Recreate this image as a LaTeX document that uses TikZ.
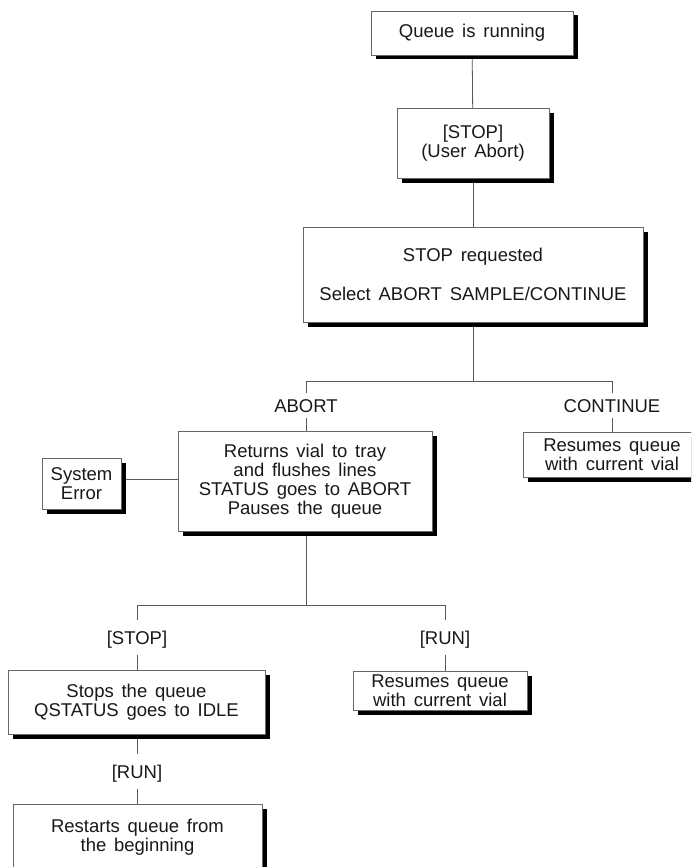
\documentclass[tikz,border=0pt]{standalone}
\usepackage{fontspec}
\setmainfont{Liberation Sans}
\usetikzlibrary{shadows,backgrounds}
\newcommand{\flowfont}{\fontsize{18.5}{19}\selectfont\spaceskip=0.42em plus 0.1em\relax}
\begin{document}
\begin{tikzpicture}[x=1pt,y=-1pt,
  box/.style={draw=black!60, line width=0.6pt, fill=white, align=center, inner sep=0pt,
    text=black!90, font=\flowfont,
    drop shadow={shadow xshift=4.5pt, shadow yshift=-4.5pt, fill=black, opacity=1}},
  lbl/.style={inner sep=0pt, text=black!90, font=\flowfont, text height=13pt, text depth=0pt},
  conn/.style={draw=black!65, line width=0.8pt}]
\useasboundingbox (0,0) rectangle (691,867);
\clip (0,0) rectangle (691,867);

% boxes
\node[box, minimum width=202pt, minimum height=44pt] (q1) at (472,33) {Queue is running};
\node[box, minimum width=152pt, minimum height=70pt] (q2) at (473,143) {[STOP]\\(User Abort)};
\node[box, minimum width=340pt, minimum height=95pt] (q3) at (473,274.5) {STOP requested\\[20pt]Select ABORT SAMPLE/CONTINUE};
\node[box, minimum width=254pt, minimum height=100pt] (q4) at (305,481) {Returns vial to tray\\and flushes lines\\STATUS goes to ABORT\\Pauses the queue};
\node[box, minimum width=79pt, minimum height=51pt] (err) at (81.5,483.5) {System\\Error};
\node[box, minimum width=178pt, minimum height=45pt] (res1) at (612,454.5) {Resumes queue\\with current vial};
\node[box, minimum width=257pt, minimum height=64pt] (stops) at (136.5,702) {Stops the queue\\QSTATUS goes to IDLE};
\node[box, minimum width=174pt, minimum height=39pt] (res2) at (440,690.5) {Resumes queue\\with current vial};
\node[box, minimum width=249pt, minimum height=66pt] (restart) at (137.5,837) {Restarts queue from\\the beginning};

% labels
\node[lbl, minimum height=25pt] (abort) at (306,405.5) {ABORT};
\node[lbl, minimum height=25pt] (cont) at (612,405.5) {CONTINUE};
\node[lbl, minimum height=35pt] (stopl) at (137,637.5) {[STOP]};
\node[lbl, minimum height=35pt] (runr) at (445,637.5) {[RUN]};
\node[lbl, minimum height=35pt] (runl) at (137,771.5) {[RUN]};

% branch points
\coordinate (bl) at (306,381);
\coordinate (br) at (612,381);
\coordinate (cl) at (137,605);
\coordinate (cr) at (445,605);

\begin{pgfonlayer}{background}
\draw[conn] (q1.center) -- (q2.center);
\draw[conn] (q2.center) -- (q3.center);
\draw[conn] (q3.center) -- (q3.center |- bl);
\draw[conn] (bl) -- (br);
\draw[conn] (bl) -- (abort.north);
\draw[conn] (br) -- (cont.north);
\draw[conn] (abort.south) -- (abort.south |- q4.north);
\draw[conn] (cont.south) -- (cont.south |- res1.north);
\draw[conn] ([yshift=4.5pt]err.east) -- ([yshift=4.5pt]err.east -| q4.west);
\draw[conn] (bl |- q4.center) -- (bl |- cl);
\draw[conn] (cl) -- (cr);
\draw[conn] (cl) -- (stopl.north);
\draw[conn] (cr) -- (runr.north);
\draw[conn] (stopl.south) -- (stopl.south |- stops.north);
\draw[conn] (runr.south) -- (runr.south |- res2.north);
\draw[conn] (runl |- stops.center) -- (runl.north);
\draw[conn] (runl.south) -- (runl.south |- restart.north);
\end{pgfonlayer}
\end{tikzpicture}
\end{document}
